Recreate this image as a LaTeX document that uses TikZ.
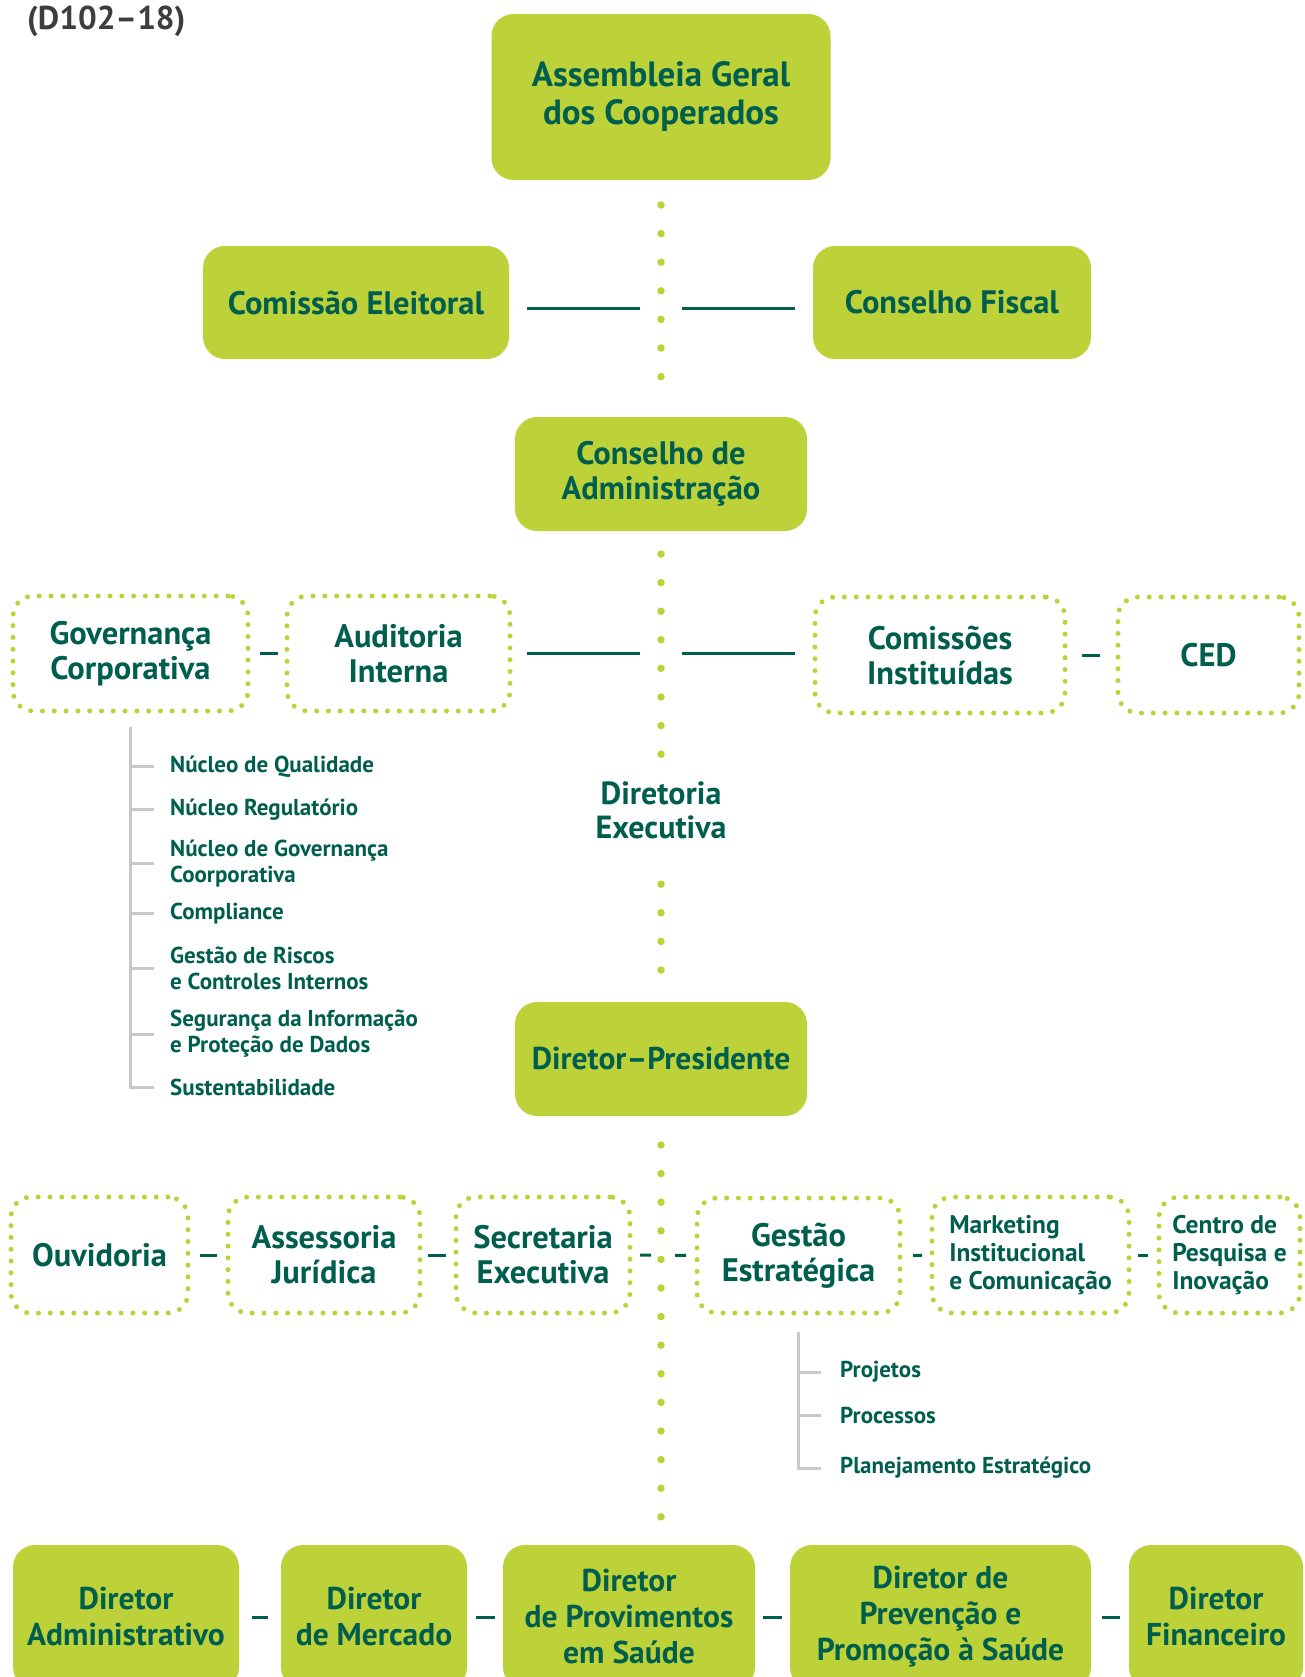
\documentclass[tikz,border=0pt]{standalone}
\usepackage{fontspec}
\setmainfont{PT Sans}
\definecolor{boxlime}{HTML}{BDD239}
\definecolor{txtgreen}{HTML}{005E4E}
\definecolor{treegray}{HTML}{C8C8C8}
\definecolor{titlegray}{HTML}{3D3D3D}
\tikzset{
  solidbox/.style={fill=boxlime, rounded corners=22pt, text=txtgreen, align=center, inner sep=0pt, outer sep=0pt,
    font=\bfseries\fontsize{32.5}{35}\selectfont},
  dotbox/.style={draw=boxlime, line width=5pt, line cap=round, dash pattern=on 0pt off 11.8pt, outer sep=0pt,
    rounded corners=20pt, text=txtgreen, align=center, inner sep=0pt, font=\bfseries\fontsize{32.5}{35}\selectfont},
  smallbox/.style={dotbox, align=left, font=\bfseries\fontsize{25.5}{28.3}\selectfont},
  lowbox/.style={solidbox, minimum height=144pt, font=\bfseries\fontsize{31.5}{36}\selectfont},
  vdots/.style={draw=boxlime, line width=7.5pt, line cap=round, dash pattern=on 0pt off 28.6pt},
  rulelink/.style={draw=txtgreen, line width=3pt},
  branch/.style={draw=treegray, line width=3pt},
  item/.style={anchor=west, inner sep=0pt, text=txtgreen, align=left, font=\bfseries\fontsize{23}{26}\selectfont}
}

\begin{document}
\begin{tikzpicture}[x=1pt,y=-1pt]
 \useasboundingbox (0,0) rectangle (1304,1677);
 \clip (0,0) rectangle (1304,1677);
 \node[anchor=base west, inner sep=0pt, text=titlegray, font=\bfseries\fontsize{33}{38}\selectfont] (code) at (27,30) {(D102–18)};

 \node[solidbox, minimum width=339pt, minimum height=166pt, font=\bfseries\fontsize{35}{38}\selectfont] (asm) at (661,97) {Assembleia Geral\\dos Cooperados};
 \node[solidbox, minimum width=306pt, minimum height=113pt] (elei) at (356,302.5) {Comissão Eleitoral};
 \node[solidbox, minimum width=278pt, minimum height=113pt] (fiscal) at (952,302.5) {Conselho Fiscal};
 \node[solidbox, minimum width=292pt, minimum height=114pt] (cadm) at (661,474) {Conselho de\\Administração};

 \node[dotbox, minimum width=235pt, minimum height=115pt] (gov) at (130.5,653.5) {Governança\\Corporativa};
 \node[dotbox, minimum width=223pt, minimum height=115pt] (aud) at (398.5,653.5) {Auditoria\\Interna};
 \node[dotbox, minimum width=250pt, minimum height=116pt] (ci) at (940,655) {Comissões\\Instituídas};
 \node[dotbox, minimum width=181pt, minimum height=116pt] (ced) at (1208.5,655) {CED};

 \node[item] (nq) at (170,766.7) {Núcleo de Qualidade};
 \node[item] (nr) at (170,809.3) {Núcleo Regulatório};
 \node[item] (ng) at (170,863.7) {Núcleo de Governança\\Coorporativa};
 \node[item] (comp) at (170,913.3) {Compliance};
 \node[item] (gr) at (170,968.3) {Gestão de Riscos\\e Controles Internos};
 \node[item] (seg) at (170,1034) {Segurança da Informação\\e Proteção de Dados};
 \node[item] (sust) at (170,1087) {Sustentabilidade};

 \node[inner sep=0pt, minimum height=90pt, text=txtgreen, align=center, font=\bfseries\fontsize{32}{34}\selectfont] (dirEx) at (661,810) {Diretoria\\Executiva};
 \node[solidbox, minimum width=292pt, minimum height=114pt, font=\bfseries\fontsize{31.5}{35}\selectfont] (pres) at (661,1059) {Diretor–Presidente};

 \node[dotbox, minimum width=177pt, minimum height=116pt] (ouv) at (99.5,1255) {Ouvidoria};
 \node[dotbox, minimum width=192pt, minimum height=116pt] (ass) at (324,1255) {Assessoria\\Jurídica};
 \node[dotbox, minimum width=174pt, minimum height=116pt] (sec) at (543,1255) {Secretaria\\Executiva};
 \node[dotbox, minimum width=203pt, minimum height=115pt] (gest) at (798.5,1255.5) {Gestão\\Estratégica};
 \node[smallbox, minimum width=197pt, minimum height=116pt] (mkt) at (1030.5,1255) {Marketing\\Institucional\\e Comunicação};
 \node[smallbox, minimum width=141pt, minimum height=116pt] (cpi) at (1229.5,1255) {Centro de\\Pesquisa e\\Inovação};

 \node[item] (proj) at (840,1372) {Projetos};
 \node[item] (proc) at (840,1415) {Processos};
 \node[item] (plan) at (840,1468) {Planejamento Estratégico};

 \node[lowbox, minimum width=226pt] (adm) at (126,1617) {Diretor\\Administrativo};
 \node[lowbox, minimum width=186pt] (mer) at (374,1617) {Diretor\\de Mercado};
 \node[lowbox, minimum width=252pt] (prov) at (629,1617) {Diretor\\de Provimentos\\em Saúde};
 \node[lowbox, minimum width=301pt] (prev) at (940.5,1617) {Diretor de\\Prevenção e\\Promoção à Saúde};
 \node[lowbox, minimum width=174pt] (fin) at (1216,1617) {Diretor\\Financeiro};

 \draw[vdots, shorten <=25pt, shorten >=34pt] (asm) -- (cadm);
 \draw[vdots, shorten <=23pt, shorten >=7pt] (cadm) -- (dirEx);
 \draw[vdots, shorten <=29pt, shorten >=28pt] (dirEx) -- (pres);
 \draw[vdots, shorten <=29pt, shorten >=24pt] (pres) -- (pres |- prov.north);

 \draw[rulelink, shorten <=18pt, shorten >=21pt] ([yshift=-6pt]elei.east) -- ([yshift=-6pt]elei.east -| asm);
 \draw[rulelink, shorten <=18pt, shorten >=21pt] ([yshift=-6pt]fiscal.west) -- ([yshift=-6pt]fiscal.west -| asm);
 \draw[rulelink, shorten <=17pt, shorten >=21pt] (aud) -- (aud -| cadm);
 \draw[rulelink, shorten <=20pt, shorten >=21pt] (ci.west |- aud) -- (aud -| cadm);

 \draw[rulelink, shorten <=12pt, shorten >=9pt] (gov) -- (aud);
 \draw[rulelink, shorten <=17pt, shorten >=18pt] (ci) -- (ced);
 \draw[rulelink, shorten <=12pt, shorten >=11pt] (ouv) -- (ass);
 \draw[rulelink, shorten <=8pt, shorten >=10pt] (ass) -- (sec);
 \draw[rulelink, dash pattern=on 11pt off 24pt, shorten <=10pt, shorten >=11pt] (sec) -- (gest);
 \draw[rulelink, shorten <=13pt, shorten >=10pt] (gest) -- (mkt);
 \draw[rulelink, shorten <=9pt, shorten >=11pt] (mkt) -- (cpi);
 \draw[rulelink, shorten <=13pt, shorten >=13pt] (adm) -- (mer);
 \draw[rulelink, shorten <=9pt, shorten >=8pt] (mer) -- (prov);
 \draw[rulelink, shorten <=8pt, shorten >=8pt] (prov) -- (prev);
 \draw[rulelink, shorten <=11pt, shorten >=9pt] (prev) -- (fin);

 \draw[branch, shorten >=16pt] ([yshift=-16pt]gov.south) |- (sust.west);
 \foreach \n in {nq,nr,ng,comp,gr,seg}
  \draw[branch, shorten >=16pt] (gov.south |- \n.west) -- (\n.west);
 \draw[branch, shorten >=19pt] ([yshift=-19pt]gest.south) |- (plan.west);
 \foreach \n in {proj,proc}
  \draw[branch, shorten >=19pt] (gest.south |- \n.west) -- (\n.west);
\end{tikzpicture}
\end{document}
